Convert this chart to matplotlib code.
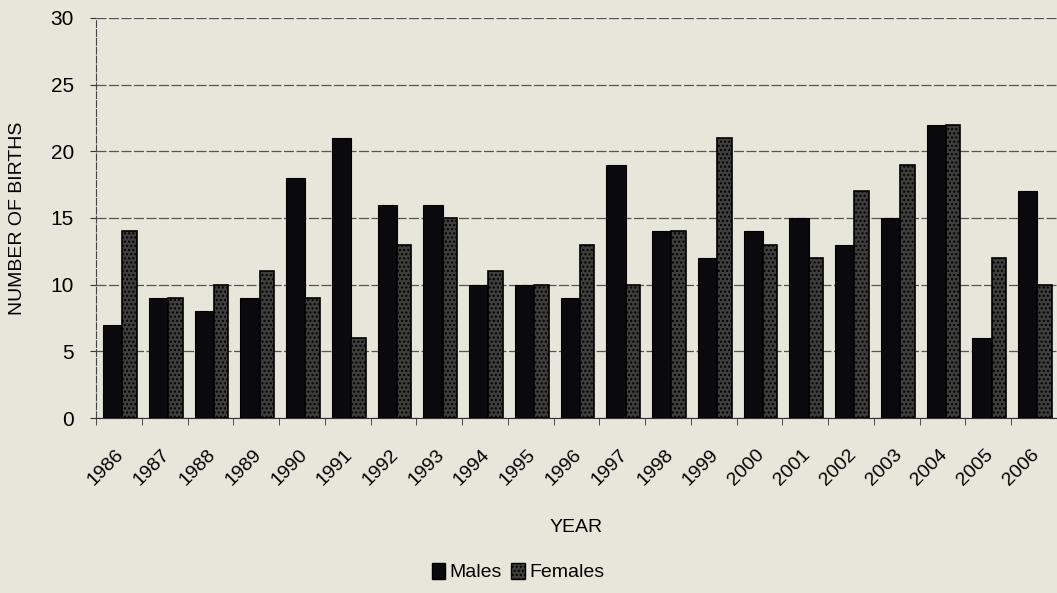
import matplotlib
matplotlib.use('Agg')
import matplotlib.pyplot as plt
import numpy as np
from matplotlib.patches import Patch

years = ['1986', '1987', '1988', '1989', '1990', '1991', '1992', '1993', '1994', '1995', '1996',
         '1997', '1998', '1999', '2000', '2001', '2002', '2003', '2004', '2005', '2006']
males = [7, 9, 8, 9, 18, 21, 16, 16, 10, 10, 9, 19, 14, 12, 14, 15, 13, 15, 22, 6, 17]
females = [14, 9, 10, 11, 9, 6, 13, 15, 11, 10, 13, 10, 14, 21, 13, 12, 17, 19, 22, 12, 10]

plt.rcParams['font.family'] = ['Liberation Sans', 'DejaVu Sans']
bg = '#e7e6da'

fig = plt.figure(figsize=(10.57, 5.93), dpi=100, facecolor=bg)
ax = fig.add_axes([0.091, 0.295, 0.909, 0.675])
ax.set_facecolor(bg)

x = np.arange(len(years))
ax.bar(x - 0.14, males, width=0.42, color='#0a0a0c', edgecolor='#000000', linewidth=0.8, zorder=3)
ax.bar(x + 0.23, females, width=0.32, color='#3e3e3c', edgecolor='#000000', linewidth=1.2,
       hatch='....', zorder=3)

ax.set_xlim(-0.5, len(years) - 0.5)
ax.set_ylim(0, 30)
ax.set_yticks(range(0, 31, 5))
ax.yaxis.grid(True, color='#555555', linestyle=(0, (8, 2)), linewidth=0.9, zorder=0)

# labels sit a bit left of the group centre, as in the scan
ax.set_xticks(x - 0.08)
ax.set_xticklabels(years, rotation=45, ha='right', rotation_mode='anchor', fontsize=14)
ax.tick_params(axis='x', which='major', length=0, pad=20)
ax.set_xticks(np.arange(-0.5, len(years), 1), minor=True)
ax.tick_params(axis='x', which='minor', length=5, color='#333333')
ax.tick_params(axis='y', labelsize=15, length=4, color='#333333', pad=12)

for side in ['top', 'right']:
    ax.spines[side].set_visible(False)
ax.spines['left'].set_color('#444444')
ax.spines['left'].set_linestyle((0, (6, 2)))
ax.spines['bottom'].set_color('#333333')

ax.set_ylabel('NUMBER OF BIRTHS', fontsize=14, labelpad=18)
ax.set_xlabel('YEAR', fontsize=14, labelpad=22)

handles = [Patch(facecolor='#0a0a0c', edgecolor='black'),
           Patch(facecolor='#3e3e3c', edgecolor='black', hatch='....')]
fig.legend(handles, ['Males', 'Females'], loc='lower center', bbox_to_anchor=(0.49, -0.01),
           ncol=2, frameon=False, fontsize=14, handlelength=0.7, handleheight=0.9,
           handletextpad=0.2, columnspacing=0.5)

fig.savefig('out.png', dpi=100, facecolor=bg)
